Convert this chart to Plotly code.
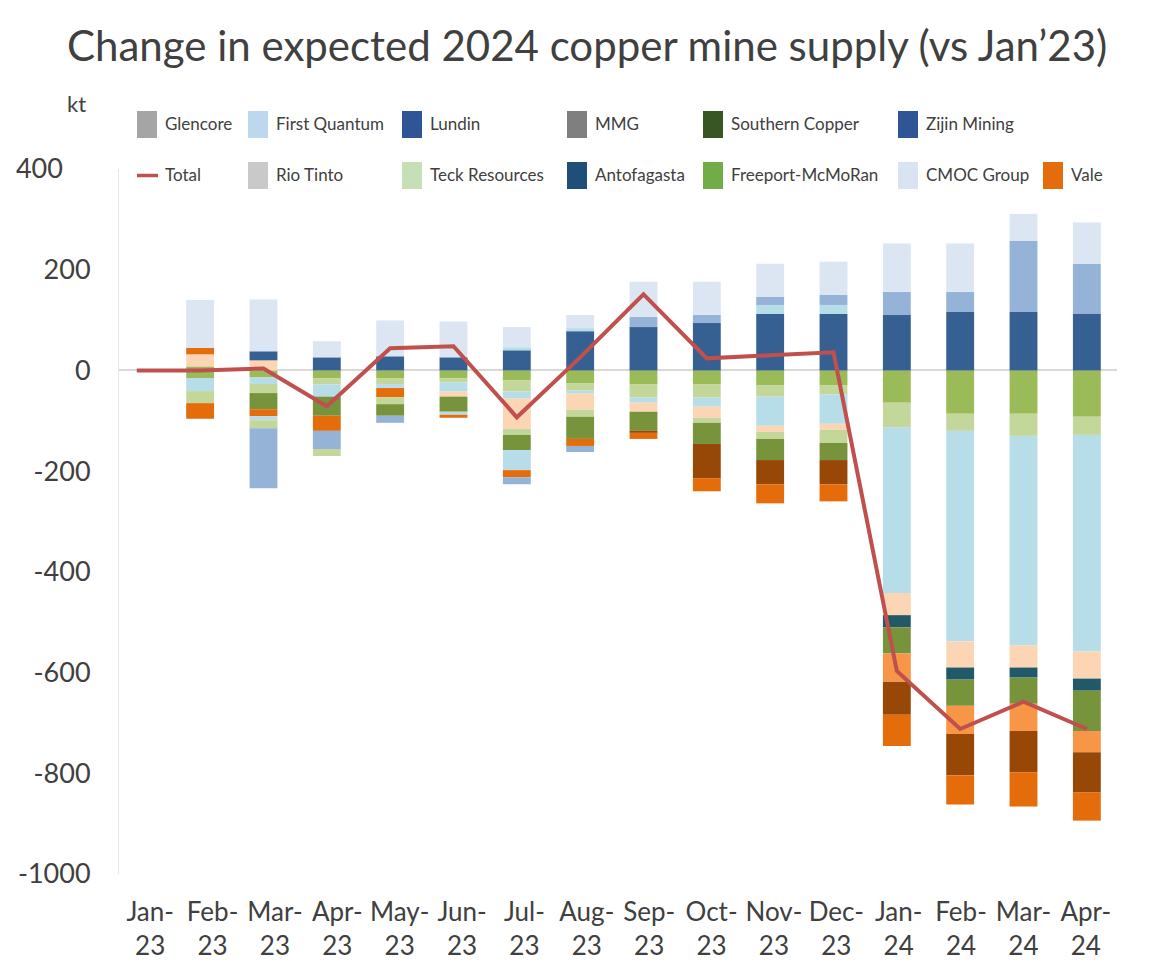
import plotly.graph_objects as go

# ---------------- data ----------------
months = ["Jan-23", "Feb-23", "Mar-23", "Apr-23", "May-23", "Jun-23", "Jul-23", "Aug-23",
          "Sep-23", "Oct-23", "Nov-23", "Dec-23", "Jan-24", "Feb-24", "Mar-24", "Apr-24"]
tick_text = ["Jan-<br>23", "Feb-<br>23", "Mar-<br>23", "Apr-<br>23", "May-<br>23", "Jun-<br>23",
             "Jul-<br>23", "Aug-<br>23", "Sep-<br>23", "Oct-<br>23", "Nov-<br>23", "Dec-<br>23",
             "Jan-<br>24", "Feb-<br>24", "Mar-<br>24", "Apr-<br>24"]

# stacked bar series (kt), in stacking order
s_green_a   = [0, 8, 0, 0, 0, 0, 0, 0, 0, 0, 0, 0, 0, 0, 0, 0]
s_green     = [0, -15, -14, -16, -15, -16, -20, -26, -28, -28, -30, -30, -64, -86, -86, -92]
s_lgreen_a  = [0, 0, 0, -12, -12, -8, -22, -14, -26, -26, -22, -18, -49, -34, -44, -36]
s_cyan_a    = [0, -26, -13, -24, -8, -18, -14, -6, -10, -18, -58, -58, -329, -418, -416, -430]
s_peach     = [0, 24, 20, 0, 0, -10, -60, -32, -18, -22, -12, -12, -44, -52, -44, -54]
s_dblue     = [0, 0, 18, 26, 28, 26, 40, 78, 86, 94, 112, 112, 110, 116, 116, 112]
s_orange_a  = [0, 13, 0, 0, -18, 0, 0, 0, 0, 0, 0, 0, 0, 0, 0, 0]
s_lgreen_b  = [0, -24, -18, 0, -14, 0, -12, -14, 0, -10, -14, -26, 0, 0, 0, 0]
s_teal      = [0, 0, 0, 0, 0, 0, 0, 0, 0, 0, 0, 0, -24, -24, -20, -24]
s_olive     = [0, 0, -32, -38, -23, -30, -30, -44, -38, -42, -42, -34, -52, -52, -52, -80]
s_lorange   = [0, 0, 0, 0, 0, 0, 0, 0, 0, 0, 0, 0, -56, -56, -54, -42]
s_brown     = [0, 0, 0, 0, 0, 0, 0, 0, -4, -68, -48, -48, -66, -82, -82, -80]
s_cyan_b    = [0, 0, 0, 0, 0, -6, -40, 0, 0, 0, 0, 0, 0, 0, 0, 0]
s_orange    = [0, -31, -14, -30, 0, -6, -14, -14, -12, -26, -38, -34, -62, -58, -68, -56]
s_cyan_c    = [0, 0, -8, 0, 0, 0, 6, 6, 0, 0, 18, 18, 0, 0, 0, 0]
s_lgreen_c  = [0, 0, -16, 0, 0, 0, 0, 0, 0, 0, 0, 0, 0, 0, 0, 0]
s_mblue     = [0, 0, -119, -36, -14, 0, -14, -12, 20, 16, 16, 20, 46, 40, 141, 100]
s_lgreen_d  = [0, 0, 0, -14, 0, 0, 0, 0, 0, 0, 0, 0, 0, 0, 0, 0]
s_lblue     = [0, 95, 103, 32, 71, 71, 40, 26, 70, 66, 66, 66, 96, 96, 54, 82]

total = [0, 0, 4, -71, 44, 48, -93, 26, 151, 24, 30, 36, -597, -712, -658, -712]

legend_names = ["Glencore", "First Quantum", "Lundin", "MMG", "Southern Copper", "Zijin Mining",
                "Total", "Rio Tinto", "Teck Resources", "Antofagasta", "Freeport-McMoRan",
                "CMOC Group", "Vale"]

y_ticks = [-1000, -800, -600, -400, -200, 0, 200, 400]
y_tick_text = ["-1000", "-800", "-600", "-400", "-200", "0", "200", "400"]

# ---------------- styles ----------------
bar_series = [
    ("Freeport-McMoRan", s_green_a, "#9bbb59"),
    ("Freeport-McMoRan", s_green, "#9bbb59"),
    ("Teck Resources", s_lgreen_a, "#c4d79b"),
    ("First Quantum", s_cyan_a, "#b7dde8"),
    ("Glencore", s_peach, "#fcd5b4"),
    ("Lundin", s_dblue, "#366092"),
    ("Vale", s_orange_a, "#e46c0a"),
    ("Rio Tinto", s_lgreen_b, "#c4d79b"),
    ("Antofagasta", s_teal, "#215968"),
    ("Southern Copper", s_olive, "#77933c"),
    ("MMG", s_lorange, "#f79646"),
    ("Anglo American", s_brown, "#974706"),
    ("First Quantum", s_cyan_b, "#b7dde8"),
    ("Vale", s_orange, "#e46c0a"),
    ("First Quantum", s_cyan_c, "#b7dde8"),
    ("Rio Tinto", s_lgreen_c, "#c4d79b"),
    ("Zijin Mining", s_mblue, "#95b3d7"),
    ("Teck Resources", s_lgreen_d, "#c4d79b"),
    ("CMOC Group", s_lblue, "#dce6f2"),
]

legend_colors = ["#a5a5a5", "#bdd7ee", "#2f5597", "#7f7f7f", "#375623", "#2f5597",
                 "#c0504d", "#c9c9c9", "#c5e0b4", "#1f4e79", "#70ad47", "#dae3f3", "#e46c0a"]
legend_x = [137, 248, 402, 567, 703, 898, 137, 248, 402, 567, 703, 898, 1043]
legend_row = [0, 0, 0, 0, 0, 0, 1, 1, 1, 1, 1, 1, 1]

FONT = "Lato"
TXT = "#404040"
OFF = 8                      # page body margin
W, H = 1150 - OFF, 976 - OFF
L, R, T, B = 119, 1117, 169, 874   # plot area in page pixels

# top tick label sits further left in the original
y_tick_label = [t + ("\u00a0" * 4 if v == 400 else "") for t, v in zip(y_tick_text, y_ticks)]

fig = go.Figure()
for name, vals, col in bar_series:
    fig.add_trace(go.Bar(x=months, y=vals, name=name, marker_color=col,
                         marker_line_width=0, width=0.44, showlegend=False))
fig.add_trace(go.Scatter(x=months, y=total, name="Total", mode="lines",
                         line=dict(color="#c0504d", width=4), showlegend=False))
# carrier for the category tick labels axis
fig.add_trace(go.Scatter(x=months, y=[None] * len(months), xaxis="x2", mode="markers",
                         showlegend=False, hoverinfo="skip"))

def px2x(px):
    return (px - L) / (R - L)

def py2y(py):
    return (B - py) / (B - T)

shapes = []
annotations = []
for i, nm in enumerate(legend_names):
    x0 = legend_x[i]
    row = legend_row[i]
    ytop = 111 if row == 0 else 162
    if nm == "Total":
        shapes.append(dict(type="line", xref="paper", yref="paper",
                           x0=px2x(x0), x1=px2x(x0 + 21), y0=py2y(175.5), y1=py2y(175.5),
                           line=dict(color=legend_colors[i], width=3.5)))
    else:
        shapes.append(dict(type="rect", xref="paper", yref="paper",
                           x0=px2x(x0), x1=px2x(x0 + 20), y0=py2y(ytop + 27), y1=py2y(ytop),
                           fillcolor=legend_colors[i], line=dict(width=0)))
    annotations.append(dict(text=nm, xref="paper", yref="paper", x=px2x(x0 + 26),
                            y=py2y(ytop + 12.5), xanchor="left", yanchor="middle",
                            showarrow=False, font=dict(family=FONT, size=17, color=TXT)))

annotations.append(dict(text="kt", xref="paper", yref="paper", x=px2x(65), y=py2y(103),
                        xanchor="left", yanchor="middle", showarrow=False,
                        font=dict(family=FONT, size=22, color=TXT)))
annotations.append(dict(text="Change in expected 2024 copper mine supply (vs Jan\u201923)",
                        xref="paper", yref="paper", x=px2x(587), y=py2y(45),
                        xanchor="center", yanchor="middle", showarrow=False,
                        font=dict(family=FONT, size=42, color=TXT)))

fig.update_layout(
    width=W, height=H,
    barmode="relative",
    plot_bgcolor="white", paper_bgcolor="white",
    margin=dict(l=L - OFF, r=W - (R - OFF), t=T - OFF, b=H - (B - OFF), autoexpand=False),
    showlegend=False,
    font=dict(family=FONT, color=TXT),
    xaxis=dict(type="category", categoryorder="array", categoryarray=months,
               range=[-0.281, 15.476], showticklabels=False, ticks="",
               showgrid=False, zeroline=False, showline=False, automargin=False),
    xaxis2=dict(type="category", categoryorder="array", categoryarray=months,
                overlaying="x", anchor="y", side="bottom", range=[-0.5, 15.5],
                tickmode="array", tickvals=months, ticktext=tick_text,
                tickfont=dict(family=FONT, size=26, color=TXT), ticks="",
                ticklabelstandoff=20, automargin=False,
                showgrid=False, zeroline=False, showline=False),
    yaxis=dict(range=[-1000, 400], tickmode="array", tickvals=y_ticks,
               ticktext=y_tick_label, automargin=False,
               tickfont=dict(family=FONT, size=27, color=TXT), ticks="",
               ticklabelstandoff=22,
               showgrid=False, zeroline=True, zerolinecolor="#d9d9d9", zerolinewidth=2,
               showline=True, linecolor="#e6e6e6", linewidth=1),
    shapes=shapes, annotations=annotations,
)

fig.write_html("out.html")
